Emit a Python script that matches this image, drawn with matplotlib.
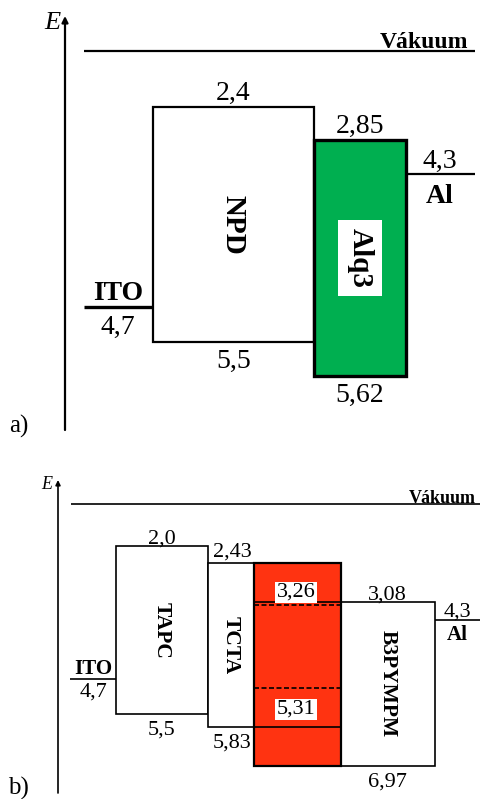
import numpy as np
import matplotlib.pyplot as plt
import matplotlib.transforms as mtransforms

plt.rcParams['font.family'] = ['Liberation Serif', 'DejaVu Serif']

# --- data: energy levels in eV below the vacuum level ---
# a) ITO / NPD / Alq3 / Al
a_layers = ['NPD', 'Alq3']
a_lumo = [2.4, 2.85]
a_homo = [5.5, 5.62]
a_ito = 4.7
a_al = 4.3

# b) ITO / TAPC / TCTA / EML / B3PYMPM / Al
b_layers = ['TAPC', 'TCTA', '', 'B3PYMPM']
b_lumo = [2.0, 2.43, 2.43, 3.08]
b_homo = [5.5, 5.83, 6.97, 6.97]
b_eml_dashed = [3.26, 5.31]   # levels drawn dashed inside the emitting layer
b_eml_solid = [3.08, 5.83]    # neighbouring levels carried through the EML
b_ito = 4.7
b_al = 4.3


def num(v):
    # hungarian decimal comma
    s = ('%.2f' % v).rstrip('0')
    if s.endswith('.'):
        s += '0'
    return s.replace('.', ',')


def schematic_scale(ax, levels, pixels):
    # the diagram is not to scale, so map energies onto the drawn heights
    lv = np.asarray(levels, float)
    px = np.asarray(pixels, float)
    fwd = lambda e: np.interp(e, lv, px)
    inv = lambda v: np.interp(v, px, lv)
    ax.set_yscale('function', functions=(fwd, inv))
    ax.set_ylim(lv[-1], lv[0])   # energy grows downwards
    return fwd, inv


def label(ax, txt, x, e, dy, size, ha='center', **kw):
    ax.annotate(txt, (x, e), xytext=(0, dy), textcoords='offset pixels',
                ha=ha, va='baseline', fontsize=size, zorder=8, **kw)


H = 799
fig = plt.figure(figsize=(4.8, 7.99), dpi=100)
axa = fig.add_axes([0, 1 - 440 / H, 1, 440 / H])
axb = fig.add_axes([0, 0, 1, 344 / H])
for ax in (axa, axb):
    ax.set_xlim(0, 480)
    ax.axis('off')

# ---------------- panel a ----------------
ax = axa
fwd, inv = schematic_scale(ax, [-0.7, 0, 2.4, 2.85, 4.3, 4.7, 5.5, 5.62, 6.5],
                           [0, 51, 107, 140, 174, 307, 342, 376, 440])
bt = mtransforms.blended_transform_factory(ax.transData, ax.transAxes)
xs = [(153, 314), (314, 406)]
colors = ['white', '#00AF50']
lws = [1.6, 2.4]
for (x0, x1), lumo, homo, name, col, lw in zip(xs, a_lumo, a_homo, a_layers, colors, lws):
    ax.bar(x0, homo - lumo, bottom=lumo, width=x1 - x0, align='edge',
           facecolor=col, edgecolor='k', linewidth=lw, zorder=2 + lw)
    xc = (x0 + x1) / 2
    ymid = inv((fwd(lumo) + fwd(homo)) / 2)
    label(ax, num(lumo), xc, lumo, 7, 20)
    label(ax, num(homo), xc, homo, -26, 20)
    box = None
    if col != 'white':
        box = dict(facecolor='white', edgecolor='none', boxstyle='square,pad=0.28')
    ax.text(xc, ymid, name, rotation=-90, ha='center', va='center',
            fontsize=21, fontweight='bold', bbox=box, zorder=6)

ax.hlines(0, 84, 475, color='k', lw=1.6)
label(ax, 'Vákuum', 468, 0, 3, 17, ha='right', fontweight='bold')
ax.hlines(a_ito, 84, 153, color='k', lw=2.4)
label(ax, 'ITO', 118, a_ito, 7, 20, fontweight='bold')
label(ax, num(a_ito), 118, a_ito, -27, 20)
ax.hlines(a_al, 406, 475, color='k', lw=1.6)
label(ax, num(a_al), 440, a_al, 6, 20)
label(ax, 'Al', 440, a_al, -29, 20, fontweight='bold')

ax.annotate('', xy=(65, 1 - 16 / 440), xytext=(65, 1 - 430 / 440),
            xycoords=('data', 'axes fraction'),
            arrowprops=dict(arrowstyle='-|>', lw=1.6, color='k', mutation_scale=9,
                            shrinkA=0, shrinkB=0))
ax.text(52, 1 - 29 / 440, 'E', style='italic', fontsize=19, ha='center',
        va='baseline', transform=bt)
ax.text(9, 1 - 433 / 440, 'a)', fontsize=18, ha='left', va='baseline', transform=bt)

# ---------------- panel b ----------------
ax = axb
fwd, inv = schematic_scale(ax, [-0.9, 0, 2.0, 2.43, 3.08, 3.26, 4.3, 4.7, 5.31, 5.5, 5.83, 6.97, 7.8],
                           [0, 49, 91, 108, 147, 150, 165, 224, 233, 259, 272, 311, 344])
bt = mtransforms.blended_transform_factory(ax.transData, ax.transAxes)
xs = [(116, 208), (208, 254), (254, 341), (341, 435)]
colors = ['white', 'white', '#FF3311', 'white']
lws = [1.2, 1.2, 1.6, 1.2]
for (x0, x1), lumo, homo, name, col, lw in zip(xs, b_lumo, b_homo, b_layers, colors, lws):
    ax.bar(x0, homo - lumo, bottom=lumo, width=x1 - x0, align='edge',
           facecolor=col, edgecolor='k', linewidth=lw, zorder=2 + lw)
    if name:
        ymid = inv((fwd(lumo) + fwd(homo)) / 2)
        ax.text((x0 + x1) / 2, ymid, name, rotation=-90, ha='center', va='center',
                fontsize=15.5, fontweight='bold', zorder=6)

# numbers around the transport layers
label(ax, num(b_lumo[0]), 162, b_lumo[0], 2, 16)
label(ax, num(b_homo[0]), 162, b_homo[0], -21, 16)
label(ax, num(b_lumo[1]), 232, b_lumo[1], 6, 16)
label(ax, num(b_homo[1]), 232, b_homo[1], -21, 16)
label(ax, num(b_lumo[3]), 387, b_lumo[3], 2, 16)
label(ax, num(b_homo[3]), 387, b_homo[3], -21, 16)

# emitting layer internals
ex0, ex1 = xs[2]
ax.hlines(b_eml_solid, ex0, ex1, color='k', lw=1.2, zorder=5)
ax.hlines(b_eml_dashed, ex0, ex1, color='k', lw=1.2, linestyles=(0, (3, 1.5)), zorder=5)
wbox = dict(facecolor='white', edgecolor='none', boxstyle='square,pad=0.06')
label(ax, num(b_eml_dashed[0]), 296, b_eml_dashed[0], 8, 16, bbox=wbox)
label(ax, num(b_eml_dashed[1]), 296, b_eml_dashed[1], -26, 16, bbox=wbox)

ax.hlines(0, 71, 480, color='k', lw=1.2)
label(ax, 'Vákuum', 476, 0, 1, 13, ha='right', fontweight='bold')
ax.hlines(b_ito, 70, 116, color='k', lw=1.2)
label(ax, 'ITO', 93, b_ito, 5, 15, fontweight='bold')
label(ax, num(b_ito), 93, b_ito, -18, 16)
ax.hlines(b_al, 435, 480, color='k', lw=1.2)
label(ax, num(b_al), 457, b_al, 3, 16)
label(ax, 'Al', 457, b_al, -20, 15, fontweight='bold')

ax.annotate('', xy=(58, 1 - 25 / 344), xytext=(58, 1 - 338 / 344),
            xycoords=('data', 'axes fraction'),
            arrowprops=dict(arrowstyle='-|>', lw=1.2, color='k', mutation_scale=7,
                            shrinkA=0, shrinkB=0))
ax.text(47, 1 - 34 / 344, 'E', style='italic', fontsize=13, ha='center',
        va='baseline', transform=bt)
ax.text(8, 1 - 340 / 344, 'b)', fontsize=18, ha='left', va='baseline', transform=bt)

fig.savefig('out.png', dpi=100)
